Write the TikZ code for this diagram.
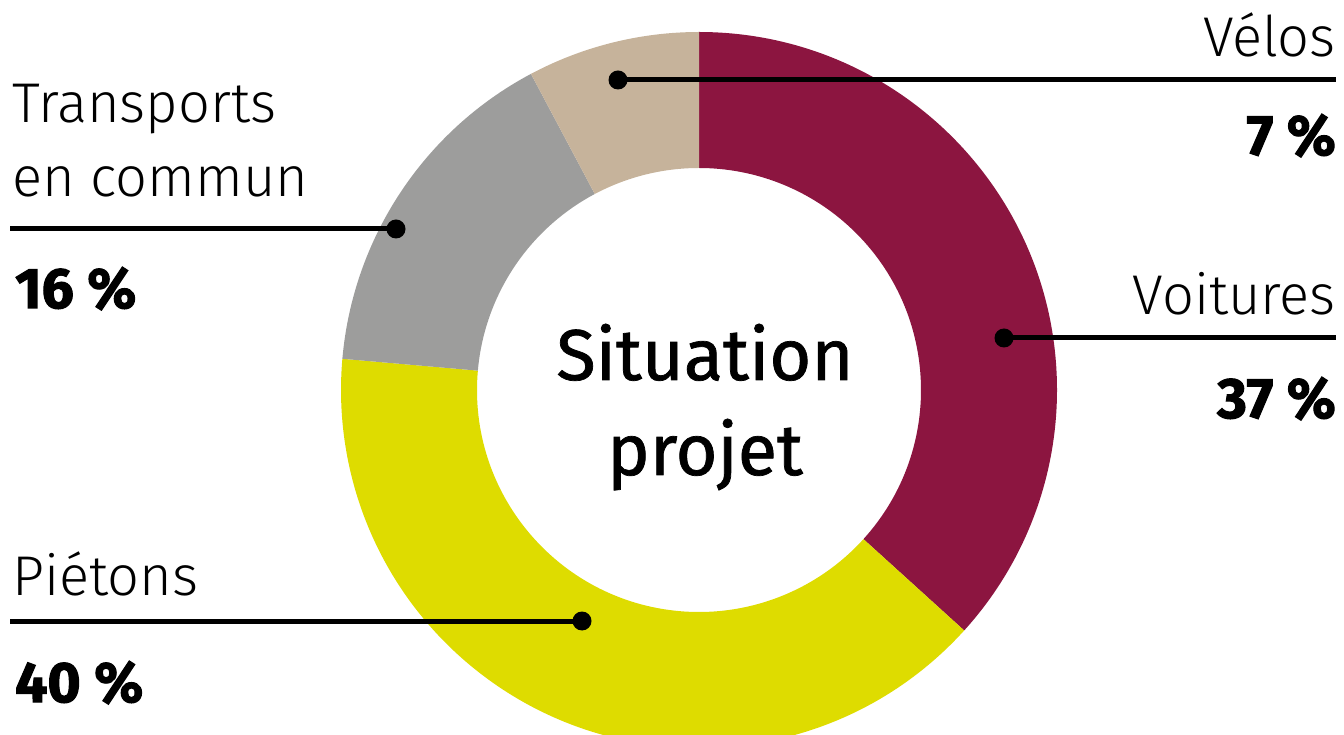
\documentclass[tikz,border=0pt]{standalone}
\usepackage{fontspec}
\setmainfont{Fira Sans Light}
\newfontfamily\heavyfont{Fira Sans Bold}[FakeBold=2]
\newfontfamily\mediumfont{Fira Sans}[FakeBold=1]
\usepackage{tikz}
\usetikzlibrary{calc}
\definecolor{voitures}{HTML}{8C1540}
\definecolor{pietons}{HTML}{DEDC00}
\definecolor{transports}{HTML}{9D9D9C}
\definecolor{velos}{HTML}{C6B39B}

\begin{document}
\begin{tikzpicture}[
x=1pt,y=1pt,
catlabel/.style={font=\fontsize{56}{60}\selectfont,inner sep=0pt},
pctlabel/.style={font=\heavyfont\fontsize{57}{60}\selectfont,inner sep=0pt},
leader/.style={line width=5pt},
dot/.style={circle,fill=black,inner sep=0pt,minimum size=19pt}
]
    \useasboundingbox (0,0) rectangle (1344,734);
    \clip (0,0) rectangle (1344,734);
    \coordinate (centre) at (699,344);

    % Draw ring
    \foreach \a/\b/\col in {90/-42.2/voitures, -42.2/-185/pietons, -185/-242/transports, -242/-270/velos}
      \fill[\col] ($(centre)+(\a:358)$) arc[start angle=\a, end angle=\b, radius=358]
        -- ($(centre)+(\b:222)$) arc[start angle=\b, end angle=\a, radius=222] -- cycle;

    \node[font=\mediumfont\fontsize{72}{80}\selectfont,inner sep=0pt,anchor=base] (situation) at (705,354) {Situation};
    \node[font=\mediumfont\fontsize{72}{80}\selectfont,inner sep=0pt,anchor=base] (projet) at (705,259) {projet};

    % Velos
    \node[dot] (velosdot) at (618,654) {};
    \coordinate (velosend) at (1336,654);
    \draw[leader] (velosdot.center) -- (velosend);
    \node[catlabel,anchor=base east] (velos) at (1336,677) {Vélos};
    \node[pctlabel,anchor=base east] (velospct) at (1336,579) {7 \%};

    % Voitures
    \node[dot] (voituresdot) at (1004,396) {};
    \coordinate (voituresend) at (1336,396);
    \draw[leader] (voituresdot.center) -- (voituresend);
    \node[catlabel,anchor=base east] (voitures) at (1336,419) {Voitures};
    \node[pctlabel,anchor=base east] (voiturespct) at (1336,316) {37 \%};

    % Transports en commun
    \node[dot] (transportsdot) at (396,505) {};
    \coordinate (transportsend) at (10,505);
    \draw[leader] (transportsend) -- (transportsdot.center);
    \node[catlabel,anchor=base west] (transports) at (12,611) {Transports};
    \node[catlabel,anchor=base west] (commun) at (12,537) {en commun};
    \node[pctlabel,anchor=base west] (transportspct) at (15,426) {16 \%};

    % Pietons
    \node[dot] (pietonsdot) at (582,113) {};
    \coordinate (pietonsend) at (10,113);
    \draw[leader] (pietonsend) -- (pietonsdot.center);
    \node[catlabel,anchor=base west] (pietons) at (12,139) {Piétons};
    \node[pctlabel,anchor=base west] (pietonspct) at (15,32) {40 \%};
\end{tikzpicture}
\end{document}
